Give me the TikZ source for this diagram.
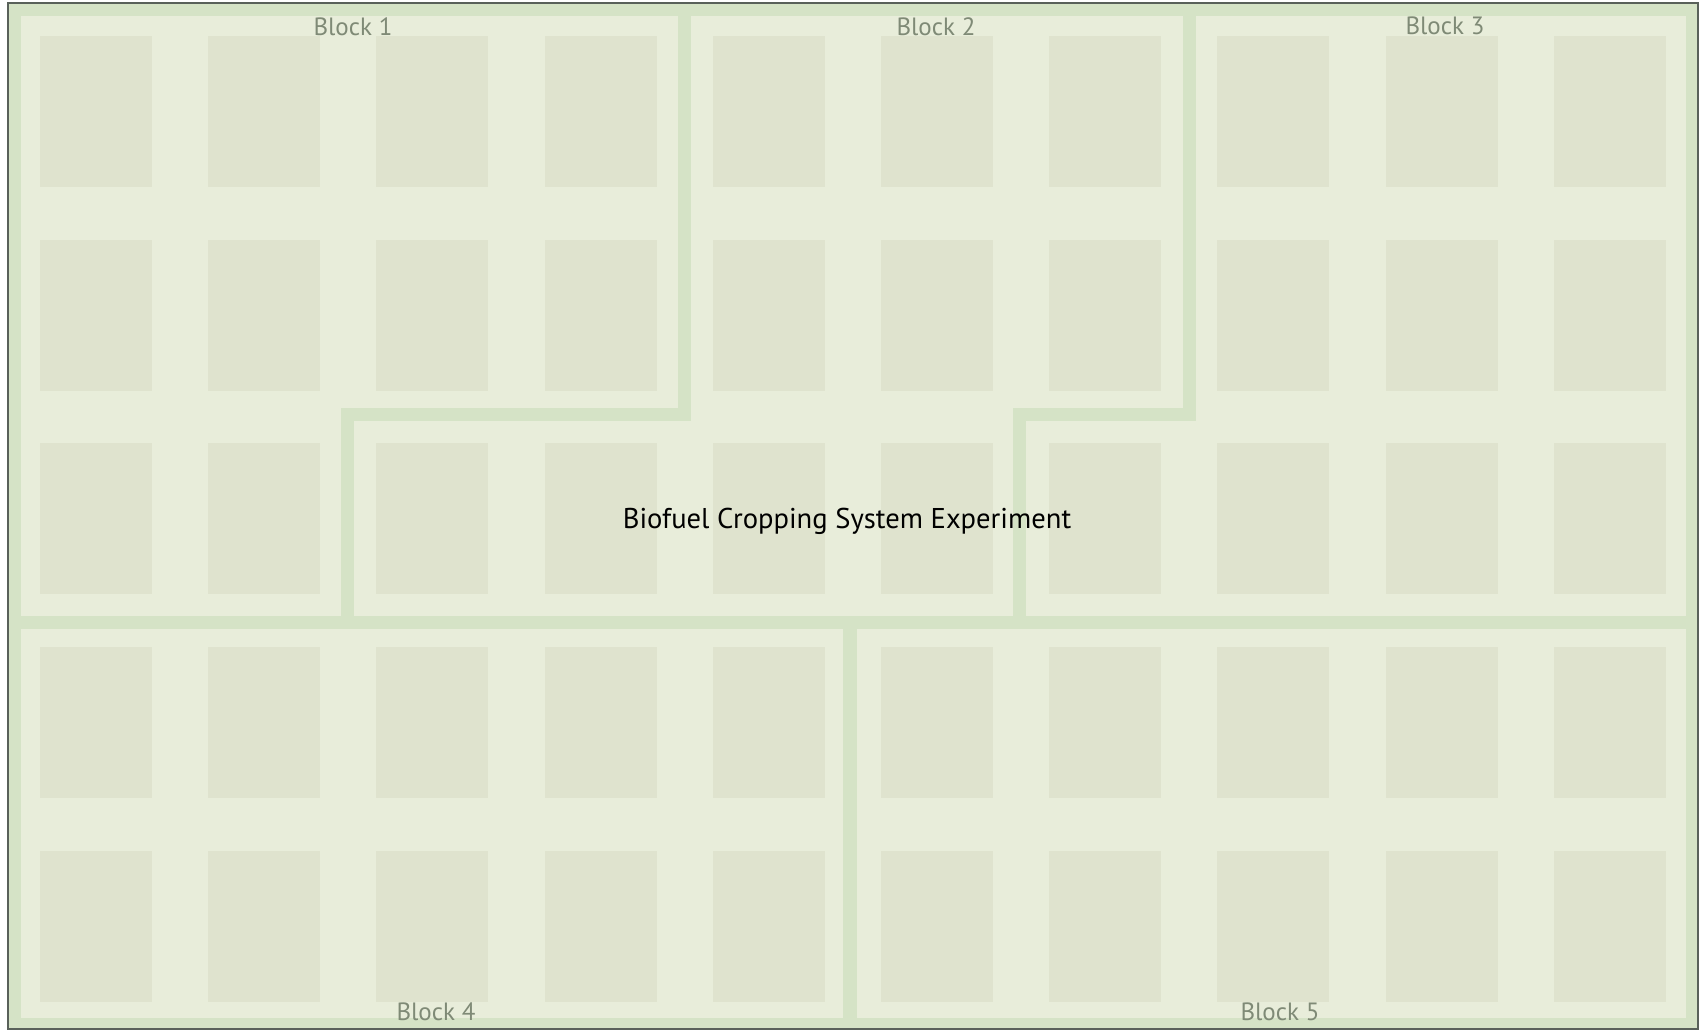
\documentclass[tikz,border=0pt]{standalone}
\usepackage{fontspec}
\setmainfont{PT Sans}
\definecolor{fieldbg}{HTML}{E8EDDA}
\definecolor{plotc}{HTML}{DFE3CE}
\definecolor{bandc}{HTML}{D5E3C6}
\definecolor{framec}{HTML}{59615A}
\definecolor{labelc}{HTML}{7F8A76}
\tikzset{
  band/.style={fill=bandc},
  plotbox/.style={fill=plotc},
  blocklabel/.style={text=labelc, font=\fontsize{25}{25}\selectfont, inner sep=0pt},
  titlelabel/.style={text=black, font=\fontsize{28.6}{29}\selectfont, inner sep=0pt}
}
\begin{document}
\begin{tikzpicture}[x=1pt,y=-1pt]
\useasboundingbox (0,0) rectangle (1702,1031);
\fill[white] (0,0) rectangle (1702,1031);
% outer band and field
\fill[band] (8,3) rectangle (1698,1029);
\fill[fieldbg] (21,16) rectangle (1686,1018);
% plots
\foreach \i in {0,...,9}{
  \foreach \y in {36,239.5,443,647,851}{
    \fill[plotbox] ({40+168.2*\i},\y) rectangle ++(112,151);
  }
}
% block dividers
\fill[band] (21,616) rectangle (1686,629);
\fill[band] (678,16) rectangle (691,421);
\fill[band] (341,408) rectangle (691,421);
\fill[band] (341,408) rectangle (354,616);
\fill[band] (1183,16) rectangle (1196,421);
\fill[band] (1013,408) rectangle (1196,421);
\fill[band] (1013,408) rectangle (1026,616);
\fill[band] (843,629) rectangle (857,1018);
% frame
\draw[framec, line width=2.2pt] (8,3) rectangle (1698,1029);
% labels
\node[blocklabel] (b1) at (353,27) {Block 1};
\node[blocklabel] (b2) at (936,27) {Block 2};
\node[blocklabel] (b3) at (1445,26) {Block 3};
\node[blocklabel] (b4) at (436,1012) {Block 4};
\node[blocklabel] (b5) at (1280,1012) {Block 5};
\node[titlelabel] (title) at (847,521) {Biofuel Cropping System Experiment};
\end{tikzpicture}
\end{document}
